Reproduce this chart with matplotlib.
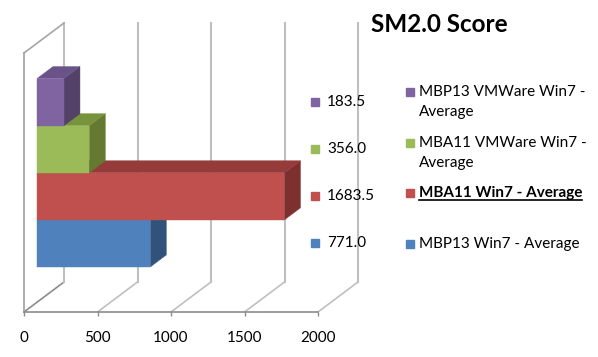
import textwrap
import matplotlib
matplotlib.use("Agg")
import matplotlib.pyplot as plt
from matplotlib.patches import Polygon
from matplotlib import transforms

plt.rcParams['font.family'] = ['Lato', 'DejaVu Sans']

# ---- data (bottom to top as drawn) ----
series_names = ["MBP13 Win7 - Average", "MBA11 Win7 - Average",
                "MBA11 VMWare Win7 - Average", "MBP13 VMWare Win7 - Average"]
values = [771.0, 1683.5, 356.0, 183.5]
front_colors = ["#4F81BD", "#C0504D", "#9BBB59", "#8064A2"]
top_colors = ["#3E6594", "#953B3A", "#77933C", "#6A5388"]
side_colors = ["#31527A", "#7E302F", "#657A30", "#534168"]
x_ticks = [0, 500, 1000, 1500, 2000]
title = "SM2.0 Score"
highlight = "MBA11 Win7 - Average"

W, H = 598, 357
fig = plt.figure(figsize=(W / 100, H / 100), dpi=100)
ax = fig.add_axes([24 / W, (H - 312) / H, 294 / W, 259 / H])
ax.set_xlim(0, 2000)
ax.set_ylim(0, 1)

# 3D oblique projection: depth d in [0, 1]
DX = 40 / 294 * 2000
DY = 30 / 259


def P(v, y, d):
    return (v + d * DX, y + d * DY)


grid_c = "#BFBFBF"
dark_c = "#8C8C8C"
# floor and back wall gridlines
for t in x_ticks:
    c = dark_c if t == 0 else grid_c
    a, b = P(t, 0, 0), P(t, 0, 1)
    ax.plot([a[0], b[0]], [a[1], b[1]], color=c, lw=1.2, clip_on=False, zorder=1)
    a, b = P(t, 0, 1), P(t, 1, 1)
    ax.plot([a[0], b[0]], [a[1], b[1]], color=grid_c, lw=1.5, clip_on=False, zorder=1)
# left wall top edge
a, b = P(0, 1, 0), P(0, 1, 1)
ax.plot([a[0], b[0]], [a[1], b[1]], color="#A6A6A6", lw=1.2, clip_on=False, zorder=1)

# bars (one category, four clustered series, gap width 150%)
n = len(values)
w = 1 / (n + 1.5)
d0, d1 = 0.325, 0.725
bar_centers = []
for i, v in enumerate(values):
    y0 = 0.75 * w + i * w
    y1 = y0 + w
    front = [P(0, y0, d0), P(v, y0, d0), P(v, y1, d0), P(0, y1, d0)]
    top = [P(0, y1, d0), P(v, y1, d0), P(v, y1, d1), P(0, y1, d1)]
    side = [P(v, y0, d0), P(v, y0, d1), P(v, y1, d1), P(v, y1, d0)]
    for poly, col in ((side, side_colors[i]), (top, top_colors[i]), (front, front_colors[i])):
        ax.add_patch(Polygon(poly, closed=True, facecolor=col, edgecolor=col,
                             lw=0.3, clip_on=False, zorder=3 + i))
    bar_centers.append((y0 + y1) / 2 + d0 * DY)

# axes spines / ticks
for s in ("top", "right"):
    ax.spines[s].set_visible(False)
ax.spines["left"].set_color("#A0A0A0")
ax.spines["bottom"].set_color(dark_c)
ax.spines["left"].set_linewidth(1.2)
ax.spines["bottom"].set_linewidth(1.2)
ax.set_yticks([])
ax.set_xticks(x_ticks)
ax.set_xticklabels([str(t) for t in x_ticks])
ax.tick_params(axis="x", direction="out", length=3, width=1, color=dark_c,
               labelsize=11, pad=11, labelcolor="black")
ax.patch.set_visible(False)

# data labels with legend keys
blend = transforms.blended_transform_factory(fig.transFigure, ax.transData)
for i, v in enumerate(values):
    yc = bar_centers[i]
    ax.plot([315 / W], [yc], marker="s", ms=5.6, color=front_colors[i],
            transform=blend, clip_on=False, zorder=10)
    ax.text(327 / W, yc, f"{v:.1f}", transform=blend, ha="left", va="center",
            fontsize=11, color="black")

# title
fig.text(439 / W, 1 - 25 / H, title, ha="center", va="center",
         fontsize=17.5, fontweight="bold")

# legend (manual, top to bottom)
leg_y = [244, 193, 143, 92]
fig.canvas.draw()
renderer = fig.canvas.get_renderer()
for i, name in enumerate(series_names):
    yc = leg_y[i]
    fig.lines.append(plt.Line2D([410 / W], [1 - yc / H], marker="s", ms=5.2,
                                color=front_colors[i], transform=fig.transFigure))
    lines = textwrap.wrap(name, width=20)
    bold = name == highlight
    for k, ln in enumerate(lines):
        t = fig.text(419 / W, 1 - (yc + 20 * k) / H, ln, ha="left", va="center",
                     fontsize=11, fontweight="bold" if bold else "normal")
        if bold:
            bb = t.get_window_extent(renderer)
            yu = 1 - (yc + 7) / H
            fig.lines.append(plt.Line2D([bb.x0 / W, bb.x1 / W], [yu, yu],
                                        color="black", lw=1.2,
                                        transform=fig.transFigure))

fig.savefig("out.png", dpi=100)
